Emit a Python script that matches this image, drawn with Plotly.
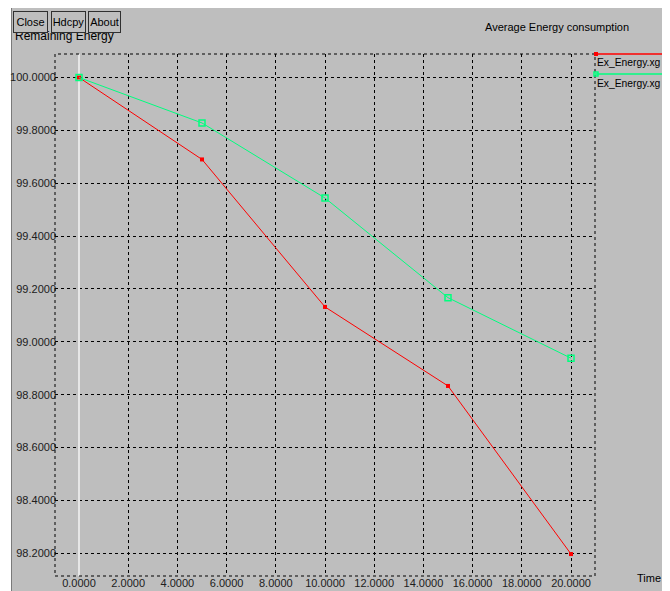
import plotly.graph_objects as go

# ---- data ----
time_vals = [0, 5, 10, 15, 20]
energy_red = [100.0, 99.690, 99.132, 98.833, 98.197]
energy_green = [100.0, 99.828, 99.544, 99.167, 98.938]
x_ticks = [0, 2, 4, 6, 8, 10, 12, 14, 16, 18, 20]
x_tick_text = ["0.0000", "2.0000", "4.0000", "6.0000", "8.0000", "10.0000",
               "12.0000", "14.0000", "16.0000", "18.0000", "20.0000"]
y_ticks = [98.2, 98.4, 98.6, 98.8, 99.0, 99.2, 99.4, 99.6, 99.8, 100.0]
y_tick_text = ["98.2000", "98.4000", "98.6000", "98.8000", "99.0000",
               "99.2000", "99.4000", "99.6000", "99.8000", "100.0000"]
series_names = ["Ex_Energy.xg", "Ex_Energy.xg"]

OFF = 8  # page body margin
W, H = 670 - OFF, 591 - OFF
# plot area in reference page pixels
L, R, T, B = 55, 595, 54, 576
GRAY = "#bebebe"
FONT = "Liberation Sans, Arial, sans-serif"
FS = 11
RED = "#ff0000"
GREEN = "#00ff7f"


def px(x):
    return (x - L) / (R - L)


def py(y):
    return (B - y) / (B - T)


fig = go.Figure()
fig.add_trace(go.Scatter(x=time_vals, y=energy_red, mode="lines+markers",
                         line=dict(color=RED, width=1),
                         marker=dict(symbol="square", size=4, color=RED),
                         name=series_names[0], showlegend=False))
fig.add_trace(go.Scatter(x=time_vals, y=energy_green, mode="lines+markers",
                         line=dict(color=GREEN, width=1),
                         marker=dict(symbol="square-open", size=6, color=GREEN,
                                     line=dict(width=1.5, color=GREEN)),
                         name=series_names[1], showlegend=False))

shapes = [
    # window background
    dict(type="rect", xref="paper", yref="paper", x0=px(11), x1=px(671),
         y0=py(595), y1=py(7), fillcolor=GRAY, line=dict(width=0), layer="below"),
    dict(type="line", xref="paper", yref="paper", x0=px(11.5), x1=px(11.5),
         y0=py(595), y1=py(7), line=dict(color="#7a7a7a", width=1), layer="below"),
    dict(type="line", xref="paper", yref="paper", x0=px(667.5), x1=px(667.5),
         y0=py(595), y1=py(7), line=dict(color="#7a7a7a", width=1), layer="below"),
    # plot border
    dict(type="rect", xref="paper", yref="paper", x0=0, x1=1, y0=0, y1=1,
         line=dict(color="black", width=1, dash="dot"), layer="above"),
    # legend lines
    dict(type="line", xref="paper", yref="paper", x0=px(595), x1=px(665),
         y0=py(54), y1=py(54), line=dict(color=RED, width=1.5)),
    dict(type="line", xref="paper", yref="paper", x0=px(595), x1=px(665),
         y0=py(74), y1=py(74), line=dict(color=GREEN, width=1.5)),
    dict(type="rect", xref="paper", yref="paper", x0=px(594), x1=px(598),
         y0=py(52), y1=py(56), fillcolor=RED, line=dict(width=0)),
    dict(type="rect", xref="paper", yref="paper", x0=px(594), x1=px(598),
         y0=py(72), y1=py(76), fillcolor="rgba(0,0,0,0)", line=dict(color=GREEN, width=1.5)),
]

annotations = [
    dict(text="Remaining Energy", xref="paper", yref="paper", x=px(13), y=py(36),
         xanchor="left", yanchor="middle", showarrow=False,
         font=dict(family=FONT, size=12, color="black")),
    dict(text="Average Energy consumption", xref="paper", yref="paper", x=px(631), y=py(27),
         xanchor="right", yanchor="middle", showarrow=False,
         font=dict(family=FONT, size=FS, color="black")),
    dict(text="Time", xref="paper", yref="paper", x=px(663), y=py(578),
         xanchor="right", yanchor="middle", showarrow=False,
         font=dict(family=FONT, size=FS, color="black")),
    dict(text=series_names[0], xref="paper", yref="paper", x=px(595), y=py(62),
         xanchor="left", yanchor="middle", showarrow=False,
         font=dict(family=FONT, size=10.3, color="black")),
    dict(text=series_names[1], xref="paper", yref="paper", x=px(595), y=py(83),
         xanchor="left", yanchor="middle", showarrow=False,
         font=dict(family=FONT, size=10.3, color="black")),
]

buttons = [("Close", 13, 48), ("Hdcpy", 51, 86), ("About", 88, 121)]
for label, bx0, bx1 in buttons:
    annotations.append(dict(
        text=label, xref="paper", yref="paper", x=px(bx0), y=py(11),
        xanchor="left", yanchor="top", showarrow=False,
        width=bx1 - bx0 - 4, height=18, borderpad=1, borderwidth=1,
        bordercolor="#303030", bgcolor=GRAY,
        font=dict(family=FONT, size=FS, color="black")))

fig.update_layout(
    width=W, height=H,
    margin=dict(l=L - OFF, r=W - (R - OFF), t=T - OFF, b=H - (B - OFF), autoexpand=False),
    paper_bgcolor="white", plot_bgcolor=GRAY,
    showlegend=False,
    font=dict(family=FONT, size=FS, color="black"),
    shapes=shapes, annotations=annotations,
    xaxis=dict(range=[-0.9756, 20.9756], tickvals=x_ticks, ticktext=x_tick_text,
               showgrid=True, gridcolor="black", griddash="dot", gridwidth=1,
               zeroline=True, zerolinecolor="#e6e6e6", zerolinewidth=2,
               showline=False, ticks="", ticklabelstandoff=-1,
               tickfont=dict(family=FONT, size=FS, color="#202020")),
    yaxis=dict(range=[98.114, 100.0889], tickvals=y_ticks, ticktext=y_tick_text,
               showgrid=True, gridcolor="black", griddash="dot", gridwidth=1,
               zeroline=False, showline=False, ticks="", ticklabelstandoff=-2,
               tickfont=dict(family=FONT, size=FS, color="#202020")),
)

fig.write_html("out.html")
